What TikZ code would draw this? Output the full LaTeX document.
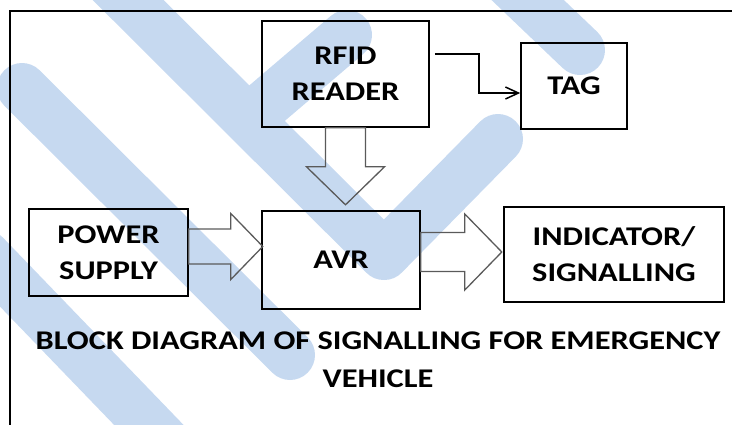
\documentclass[tikz,border=0pt]{standalone}
\usepackage{fontspec}
\newfontfamily\lbl{Carlito}[FakeStretch=1.2]
\usetikzlibrary{calc,arrows.meta}
\definecolor{bandblue}{RGB}{198,217,240}
\definecolor{arrgray}{RGB}{90,90,90}
\begin{document}
\begin{tikzpicture}[x=1pt,y=-1pt,
  band/.style={line width=50pt, line cap=round, line join=round, draw=bandblue},
  blockbox/.style={draw=black, line width=1.6pt, inner sep=0pt, align=center,
    font=\lbl\bfseries\fontsize{27}{36}\selectfont},
  hollow/.style={draw=arrgray, line width=1.3pt, line join=miter},
  link/.style={draw=black, line width=1.5pt, -{Straight Barb[length=13pt,width=12pt]}},
  frameline/.style={draw=black, line width=1.5pt},
  caption/.style={align=center, inner sep=0pt, font=\lbl\bfseries\fontsize{27}{38.5}\selectfont}]
\useasboundingbox (0,0) rectangle (732,424);
\clip (0,0) rectangle (732,424);
% watermark bands
\draw[band] (100,-28) -- (384,255) -- (498,139);
\draw[band] (347,35) -- (252,116);
\draw[band] (22,88) -- (290,355);
\draw[band] (-15,255) -- (200,478);
\draw[band] (490,-36) -- (580,50);
% frame
\draw[frameline] (10,440) -- (10,11) -- (750,11);
% blocks
\node[blockbox, minimum width=167pt, minimum height=106pt] (rfid) at (345.5,74) {RFID\\READER};
\node[blockbox, minimum width=106pt, minimum height=86pt] (tag) at (574,86) {TAG};
\node[blockbox, minimum width=159pt, minimum height=87pt] (ps) at (108.5,252.5) {POWER\\SUPPLY};
\node[blockbox, minimum width=158pt, minimum height=98pt] (avr) at (341,260) {AVR};
\node[blockbox, minimum width=220pt, minimum height=95pt] (ind) at (614,254.5) {INDICATOR/\\SIGNALLING};
% caption
\node[caption] (cap) at (378,359.75) {BLOCK DIAGRAM OF SIGNALLING FOR EMERGENCY\\VEHICLE};
% RFID -> TAG link
\draw[link] ($(rfid.north east)+(5,34)$) -- ++(44,0) |- ($(tag.west)+(0,7)$);
% hollow arrows
\draw[hollow] ($(rfid.south)+(-20,0)$) -- ++(0,39) -- ++(-19,0) -- ++(39,38) -- ++(39,-38) -- ++(-19,0) -- ++(0,-39) -- cycle;
\draw[hollow] ($(ps.east)+(0,-23.5)$) -- ++(42,0) -- ++(0,-15.5) -- ++(32,33) -- ++(-32,33) -- ++(0,-15.5) -- ++(-42,0) -- cycle;
\draw[hollow] ($(avr.east)+(0,-27.5)$) -- ++(44,0) -- ++(0,-18.5) -- ++(37,38) -- ++(-37,38) -- ++(0,-18.5) -- ++(-44,0) -- cycle;
\end{tikzpicture}
\end{document}
